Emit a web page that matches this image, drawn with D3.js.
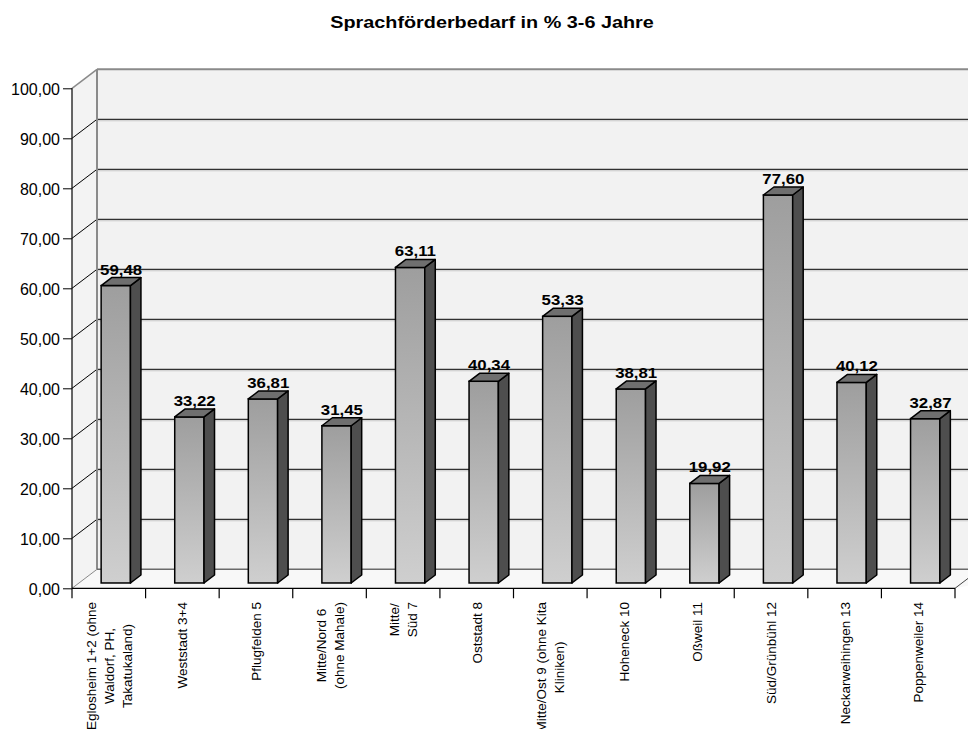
<!DOCTYPE html>
<html><head><meta charset="utf-8">
<script src="https://cdn.jsdelivr.net/npm/d3@7"></script>
<style>body{margin:0;background:#fff;} text{font-family:Arial,"Liberation Sans",sans-serif;}</style>
</head><body>
<svg id="c" width="968" height="729"></svg>
<script>
const title = "Sprachförderbedarf in % 3-6 Jahre";
const categories = [
  "Eglosheim 1+2 (ohne\nWaldorf, PH,\nTakatukaland)",
  "Weststadt 3+4",
  "Pflugfelden 5",
  "Mitte/Nord 6\n(ohne Mahale)",
  "Mitte/\nSüd 7",
  "Oststadt 8",
  "Mitte/Ost 9 (ohne Kita\nKliniken)",
  "Hoheneck 10",
  "Oßweil 11",
  "Süd/Grünbühl 12",
  "Neckarweihingen 13",
  "Poppenweiler 14"
];
const values = [59.48, 33.22, 36.81, 31.45, 63.11, 40.34, 53.33, 38.81, 19.92, 77.60, 40.12, 32.87];
const yTicks = [0, 10, 20, 30, 40, 50, 60, 70, 80, 90, 100];

const svg = d3.select("#c");
const loc = d3.formatLocale({decimal: ",", thousands: ".", grouping: [3], currency: ["", "€"]});
const fmt = loc.format(".2f");

const DX = 25, DY = -19; // depth offset
const x = d3.scaleBand().domain(categories).range([72, 955]).paddingInner(0).paddingOuter(0);
const y = d3.scaleLinear().domain([0, 100]).range([588.3, 88.3]);
const P = (xf, v, z) => [xf + z * DX, y(v) + z * DY];

// gradient for bar fronts
const defs = svg.append("defs");
const g = defs.append("linearGradient").attr("id", "barg").attr("x1", 0).attr("y1", 0).attr("x2", 0).attr("y2", 1);
g.append("stop").attr("offset", "0%").attr("stop-color", "#9e9e9e");
g.append("stop").attr("offset", "100%").attr("stop-color", "#cfcfcf");

const x0 = 72, x1 = 955, xBackR = 1000;
// back wall
svg.append("rect").attr("x", x0 + DX).attr("y", y(100) + DY).attr("width", xBackR - x0 - DX).attr("height", y(0) - y(100)).attr("fill", "#f2f2f2");
// left wall
svg.append("polygon").attr("points", [P(x0,100,0), P(x0,100,1), P(x0,0,1), P(x0,0,0)].map(p => p.join(",")).join(" ")).attr("fill", "#f3f3f3");
// floor
svg.append("polygon").attr("points", [P(x0,0,0), P(x1,0,0), [xBackR + 50, y(0) + DY], P(x0,0,1)].map(p => p.join(",")).join(" ")).attr("fill", "#f8f8f8");

// gridlines
const grid = yTicks.filter(t => t > 0 && t < 100);
grid.forEach(t => {
  const [bx, by] = P(x0, t, 1);
  svg.append("line").attr("x1", bx).attr("x2", xBackR).attr("y1", by + 1.5).attr("y2", by + 1.5).attr("stroke", "#c8c8c8").attr("stroke-width", 1);
  svg.append("line").attr("x1", bx).attr("x2", xBackR).attr("y1", by).attr("y2", by).attr("stroke", "#000").attr("stroke-width", 1);
});
yTicks.forEach(t => {
  const [fx, fy] = P(x0, t, 0), [bx, by] = P(x0, t, 1);
  svg.append("line").attr("x1", fx).attr("y1", fy).attr("x2", bx).attr("y2", by)
    .attr("stroke", t === 0 || t === 100 ? "#8a8a8a" : "#000").attr("stroke-width", t === 100 ? 1.5 : 1);
});
// back wall top and left border
{
  const [bx, by] = P(x0, 100, 1);
  svg.append("line").attr("x1", bx).attr("x2", xBackR).attr("y1", by).attr("y2", by).attr("stroke", "#8a8a8a").attr("stroke-width", 2);
  const [bx0, by0] = P(x0, 0, 1);
  svg.append("line").attr("x1", bx).attr("x2", bx0).attr("y1", by).attr("y2", by0).attr("stroke", "#8a8a8a").attr("stroke-width", 2);
  svg.append("line").attr("x1", bx0).attr("x2", xBackR).attr("y1", by0).attr("y2", by0).attr("stroke", "#6a6a6a").attr("stroke-width", 1.5);
  const [rx, ry] = P(x1, 0, 0);
  svg.append("line").attr("x1", rx).attr("y1", ry).attr("x2", rx + DX).attr("y2", ry + DY).attr("stroke", "#444").attr("stroke-width", 1);
}

// bars
const zf = 0.28, zb = 0.70, bw = 29.3;
const bars = svg.append("g");
categories.forEach((c, i) => {
  const v = values[i];
  const cx = x(c) + x.bandwidth() / 2;
  const l = cx - bw / 2, r = cx + bw / 2;
  const pts = a => a.map(p => p.join(",")).join(" ");
  // front
  const fl = P(l, v, zf), fr = P(r, 0, zf);
  bars.append("rect").attr("x", fl[0]).attr("y", fl[1]).attr("width", bw).attr("height", fr[1] - fl[1])
    .attr("fill", "url(#barg)").attr("stroke", "#000").attr("stroke-width", 1.5);
  // side
  bars.append("polygon").attr("points", pts([P(r, v, zf), P(r, v, zb), P(r, 0, zb), P(r, 0, zf)]))
    .attr("fill", "#4e4e4e").attr("stroke", "#000").attr("stroke-width", 1.5).attr("stroke-linejoin", "round");
  // top
  bars.append("polygon").attr("points", pts([P(l, v, zf), P(r, v, zf), P(r, v, zb), P(l, v, zb)]))
    .attr("fill", "#6f6f6f").attr("stroke", "#000").attr("stroke-width", 1.5).attr("stroke-linejoin", "round");
  // value label
  const [lx, ly] = P(cx, v, zb);
  const lxm = cx + (zf + zb) / 2 * DX;
  svg.append("text").attr("transform", `translate(${lxm},${ly - 3}) scale(1.2,1)`)
    .attr("text-anchor", "middle").attr("font-size", 14).attr("font-weight", "bold").attr("fill", "#000")
    .text(fmt(v));
});

// front axes
svg.append("line").attr("x1", x0).attr("x2", x0).attr("y1", y(100)).attr("y2", y(0)).attr("stroke", "#000").attr("stroke-width", 1.2);
svg.append("line").attr("x1", x0).attr("x2", x1).attr("y1", y(0)).attr("y2", y(0)).attr("stroke", "#000").attr("stroke-width", 1.2);

const yAxis = d3.axisLeft(y).tickValues(yTicks).tickSize(9).tickSizeOuter(0).tickFormat(fmt).tickPadding(3);
const ya = svg.append("g").attr("transform", `translate(${x0},0)`).call(yAxis);
ya.select(".domain").remove();
ya.selectAll("text").attr("font-size", 16).attr("font-family", "Arial, 'Liberation Sans', sans-serif").attr("fill", "#000").attr("dy", "0.36em");
ya.selectAll("line").attr("stroke", "#000");

// x ticks at boundaries
const bounds = categories.map(c => x(c)).concat([x1]);
svg.selectAll(".xt").data(bounds).enter().append("line")
  .attr("x1", d => d).attr("x2", d => d).attr("y1", y(0)).attr("y2", y(0) + 10).attr("stroke", "#000").attr("stroke-width", 1.2);

// category labels
const lab = svg.append("g");
categories.forEach(c => {
  const lines = c.split("\n");
  const cx = x(c) + x.bandwidth() / 2;
  const n = lines.length, sp = 18;
  const ts = lines.map((t, j) => lab.append("text")
    .attr("font-size", 13.5).attr("fill", "#000").attr("text-anchor", "middle")
    .text(t));
  const L = d3.max(ts, t => t.node().getComputedTextLength());
  ts.forEach((t, j) => {
    const xx = cx + (j - (n - 1) / 2) * sp;
    t.attr("transform", `translate(${xx + 5},${602 + L / 2}) rotate(-90)`);
  });
});

// title
svg.append("text").attr("transform", "translate(492,28) scale(1.2,1)").attr("text-anchor", "middle")
  .attr("font-size", 16.5).attr("font-weight", "bold").attr("fill", "#000").text(title);
</script>
</body></html>
